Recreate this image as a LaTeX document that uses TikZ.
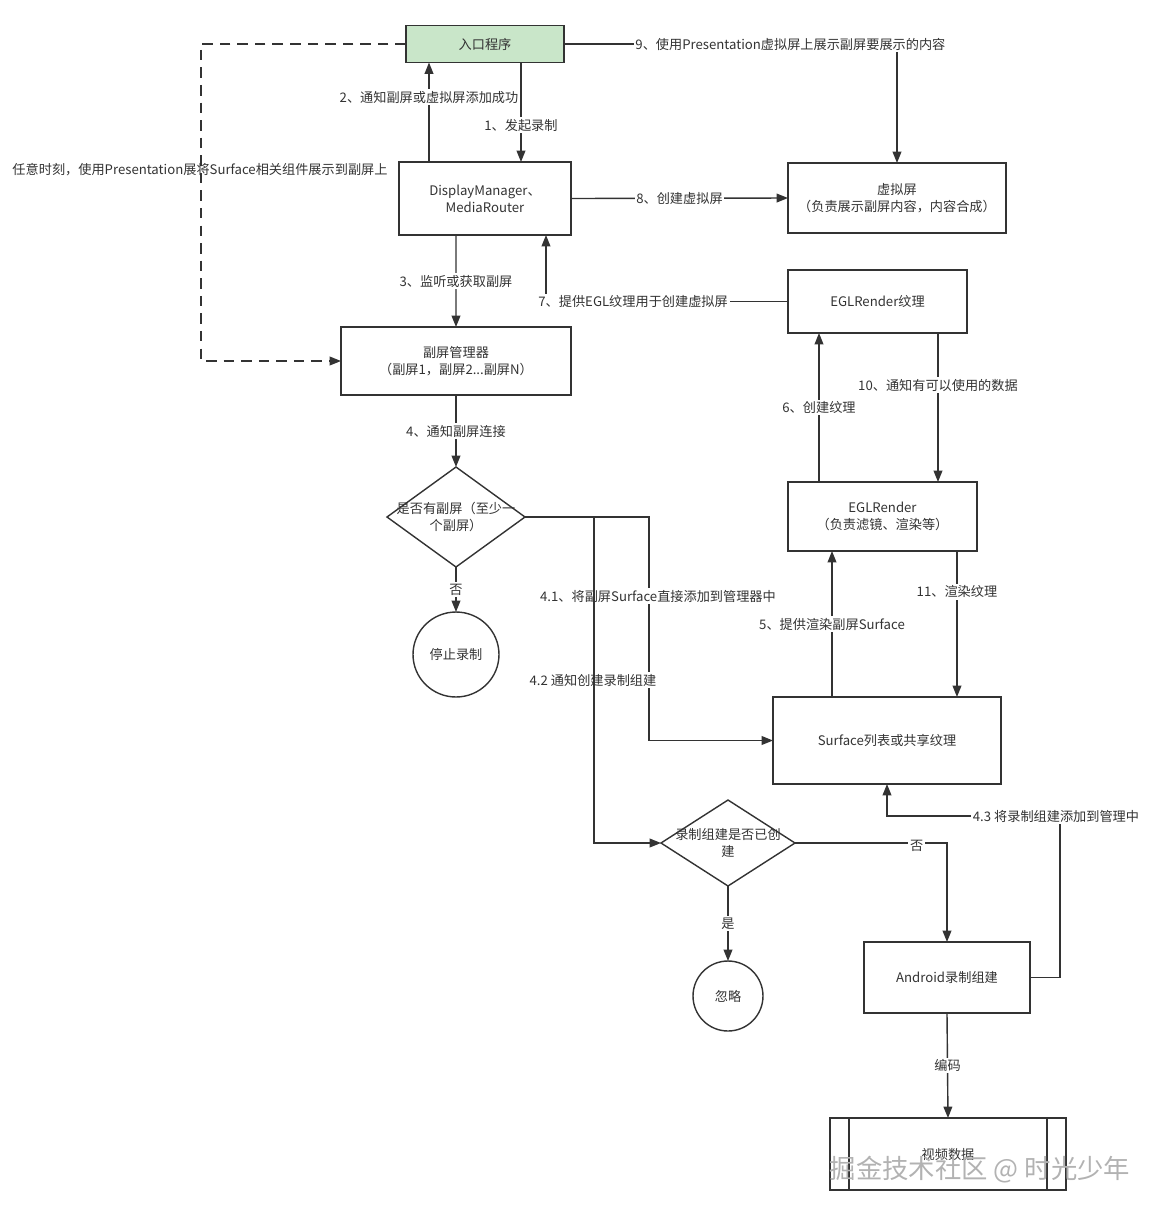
\documentclass[tikz,border=0pt]{standalone}
\usepackage{fontspec}
\setmainfont{Noto Sans CJK SC}
\usetikzlibrary{arrows.meta,shapes.geometric}
\definecolor{linegray}{RGB}{51,51,51}
\definecolor{entrygreen}{RGB}{201,230,201}
\begin{document}
\begin{tikzpicture}[x=0.02cm,y=-0.02cm,inner sep=0pt,outer sep=0pt,line width=0.8pt,draw=linegray,
>={Triangle[length=6.5pt,width=5pt]},
txt/.style={font=\fontsize{7.5}{9.5}\selectfont,text=linegray},
sysblock/.style={draw,rectangle,txt,align=center},
startblock/.style={sysblock,fill=entrygreen},
decision/.style={draw,diamond,txt,aspect=1.4},
termblock/.style={draw,ellipse,txt},
edgelabel/.style={txt,fill=white,inner sep=1pt}]
\useasboundingbox (0,0) rectangle (1153,1215);
% boxes
\node[startblock,minimum width=3.16cm,minimum height=0.74cm] (entry) at (485,44) {入口程序};
\node[sysblock,minimum width=3.44cm,minimum height=1.46cm] (dm) at (485,198.5) {DisplayManager、\\MediaRouter};
\node[sysblock,minimum width=4.6cm,minimum height=1.36cm] (mgr) at (456,361) {副屏管理器\\（副屏1，副屏2...副屏N）};
\node[decision,minimum width=2.76cm,minimum height=2cm,
  label={[txt,align=center]center:是否有副屏（至少一\\个副屏）}] (dec1) at (456,517) {};
\node[termblock,minimum width=1.72cm,minimum height=1.7cm] (stop) at (456,654.5) {停止录制};
\node[sysblock,minimum width=4.36cm,minimum height=1.4cm] (virt) at (897,198) {虚拟屏\\（负责展示副屏内容，内容合成）};
\node[sysblock,minimum width=3.58cm,minimum height=1.26cm] (eglt) at (877.5,301.5) {EGLRender纹理};
\node[sysblock,minimum width=3.78cm,minimum height=1.38cm] (egl) at (882.5,516.5) {EGLRender\\（负责滤镜、渲染等）};
\node[sysblock,minimum width=4.56cm,minimum height=1.74cm] (surf) at (887,740.5) {Surface列表或共享纹理};
\node[decision,minimum width=2.68cm,minimum height=1.72cm,
  label={[txt,align=center]center:录制组建是否已创\\建}] (dec2) at (728,843) {};
\node[termblock,minimum width=1.4cm,minimum height=1.4cm] (ignore) at (728,996) {忽略};
\node[sysblock,minimum width=3.32cm,minimum height=1.42cm] (android) at (947,977.5) {Android录制组建};
\node[sysblock,minimum width=4.72cm,minimum height=1.44cm] (video) at (948,1154) {视频数据};
\draw ([xshift=0.38cm]video.north west) -- ([xshift=0.38cm]video.south west);
\draw ([xshift=-0.38cm]video.north east) -- ([xshift=-0.38cm]video.south east);
% connectors
\coordinate (dashc) at (201,44);
\draw[->,dashed,dash pattern=on 6pt off 4pt] (entry.west) -- (dashc) |- (mgr.west);
\node[txt] (anytime) at (200,170) {任意时刻，使用Presentation展将Surface相关组件展示到副屏上};
\draw[->] ([xshift=-1.12cm]dm.north) -- ([xshift=-1.12cm]entry.south) node[edgelabel,pos=0.65] {2、通知副屏或虚拟屏添加成功};
\draw[->] ([xshift=0.72cm]entry.south) -- ([xshift=0.72cm]dm.north) node[edgelabel,pos=0.63] {1、发起录制};
\draw[->] (entry.east) -| (virt.north) node[edgelabel,pos=0.34] {9、使用Presentation虚拟屏上展示副屏要展示的内容};
\draw[->] (dm.east) -- (virt.west) node[edgelabel,midway] {8、创建虚拟屏};
\draw[->] ([xshift=-0.58cm]dm.south) -- (mgr.north) node[edgelabel,midway] {3、监听或获取副屏};
\draw[->] (eglt.west) -| ([xshift=1.22cm]dm.south) node[edgelabel,pos=0.32] {7、提供EGL纹理用于创建虚拟屏};
\draw[->] (mgr.south) -- (dec1.north) node[edgelabel,midway] {4、通知副屏连接};
\draw[->] (dec1.south) -- (stop.north) node[edgelabel,midway] {否};
\draw[->] ([xshift=-1.27cm]egl.north) -- ([xshift=-1.27cm]egl.north |- eglt.south) node[edgelabel,midway] {6、创建纹理};
\draw[->] ([xshift=1.21cm]eglt.south) -- ([xshift=1.21cm]eglt.south |- egl.north) node[edgelabel,pos=0.35] {10、通知有可以使用的数据};
\draw[->] ([xshift=-1.1cm]surf.north) -- ([xshift=-1.1cm]surf.north |- egl.south) node[edgelabel,midway] {5、提供渲染副屏Surface};
\draw[->] ([xshift=1.49cm]egl.south) -- ([xshift=1.49cm]egl.south |- surf.north) node[edgelabel,pos=0.28] {11、渲染纹理};
\coordinate (c41) at (649,517);
\draw[->] (dec1.east) -- (c41) |- (surf.west);
\node[edgelabel] (l41) at (658,596) {4.1、将副屏Surface直接添加到管理器中};
\node[edgelabel] (l42) at (593,680) {4.2 通知创建录制组建};
\coordinate (c42) at (594,517);
\draw[->] (c42) |- (dec2.west);
\coordinate (c43) at (1060,816);
\draw[->] (android.east) -| (c43) node[edgelabel,xshift=-0.08cm] {4.3 将录制组建添加到管理中} -| (surf.south);
\draw[->] (dec2.east) -| (android.north) node[edgelabel,pos=0.4,yshift=-0.06cm] {否};
\draw[->] (dec2.south) -- (ignore.north) node[edgelabel,midway] {是};
\draw[->] (android.south) -- (video.north) node[edgelabel,midway] {编码};
% watermark
\node[font=\fontsize{15}{18}\selectfont,text=gray!60] (mark) at (980,1170) {掘金技术社区 @ 时光少年};
\end{tikzpicture}
\end{document}
